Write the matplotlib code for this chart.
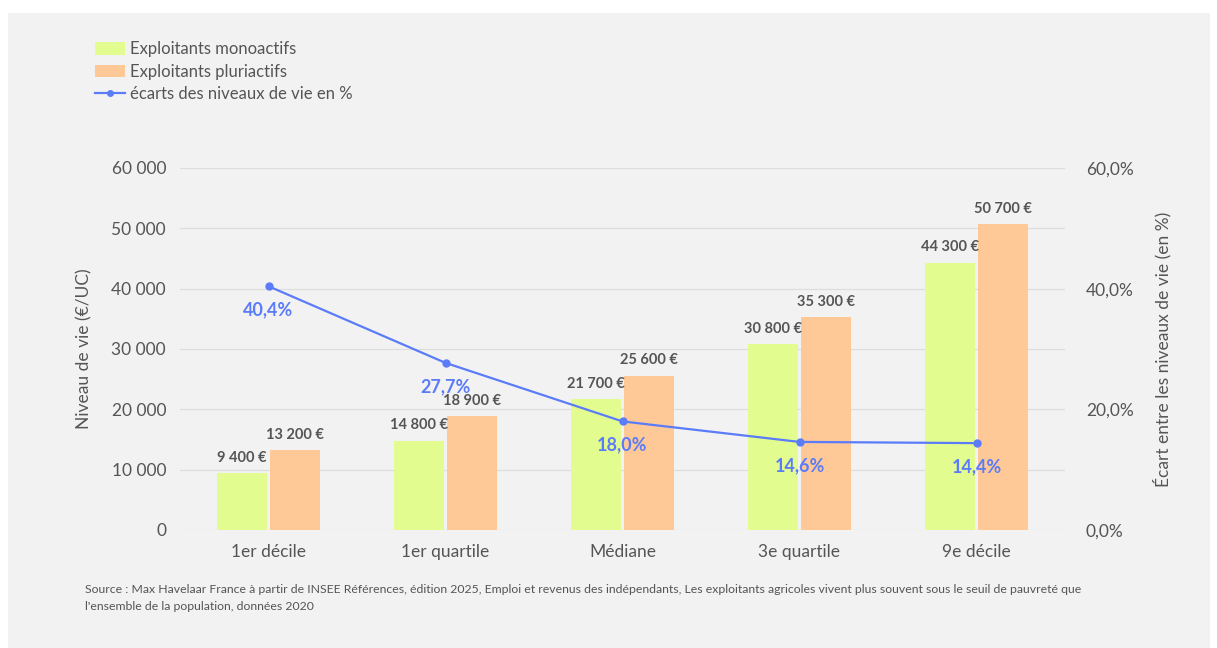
"""Niveau de vie des exploitants monoactifs vs pluriactifs, avec l'écart en %."""
import matplotlib

matplotlib.use("Agg")
import matplotlib.pyplot as plt
from matplotlib.patches import Rectangle
from matplotlib.lines import Line2D

categories = ["1er décile", "1er quartile", "Médiane", "3e quartile", "9e décile"]
monoactifs = [9400, 14800, 21700, 30800, 44300]
pluriactifs = [13200, 18900, 25600, 35300, 50700]
ecarts = [40.4, 27.7, 18.0, 14.6, 14.4]

GREEN = "#e3fc8f"
ORANGE = "#ffc897"
BLUE = "#5b7cf9"
TXT = "#555555"
BG = "#f2f2f2"

plt.rcParams["font.family"] = ["Lato", "DejaVu Sans"]


def fmt_eur(v):
    return f"{v:,}".replace(",", " ") + " €"


def fmt_pct(v):
    return f"{v:.1f}%".replace(".", ",")


fig = plt.figure(figsize=(12.17, 6.48), dpi=100)
fig.patch.set_facecolor("white")
fig.patches.append(Rectangle((8 / 1217, 0), 1202 / 1217, 1 - 13 / 648,
                             transform=fig.transFigure, facecolor=BG,
                             edgecolor="none", zorder=-10))

ax = fig.add_axes([180 / 1217, 1 - 530 / 648, 885 / 1217, 362 / 648])
ax.set_facecolor(BG)
x = list(range(len(categories)))
w = 0.28
ax.bar([i - 0.15 for i in x], monoactifs, width=w, color=GREEN, zorder=2)
ax.bar([i + 0.15 for i in x], pluriactifs, width=w, color=ORANGE, zorder=2)
for i in x:
    ax.annotate(fmt_eur(monoactifs[i]), (i - 0.15, monoactifs[i]), xytext=(0, 6),
                textcoords="offset points", ha="center", va="bottom",
                fontsize=10.5, fontweight="bold", color=TXT)
    ax.annotate(fmt_eur(pluriactifs[i]), (i + 0.15, pluriactifs[i]), xytext=(0, 6),
                textcoords="offset points", ha="center", va="bottom",
                fontsize=10.5, fontweight="bold", color=TXT)

ax.set_xlim(-0.5, 4.5)
ax.set_ylim(0, 60000)
ax.set_yticks(range(0, 60001, 10000))
ax.set_yticklabels([f"{v:,}".replace(",", " ") for v in range(0, 60001, 10000)])
ax.set_xticks(x)
ax.set_xticklabels(categories)
ax.grid(axis="y", color="#dddddd", linewidth=0.9, zorder=0)
for s in ax.spines.values():
    s.set_visible(False)
ax.tick_params(length=0, labelsize=12.5, labelcolor=TXT)
ax.tick_params(axis="y", pad=10)
ax.tick_params(axis="x", pad=10)
ax.set_ylabel("Niveau de vie (€/UC)", fontsize=12.5, color=TXT, labelpad=14)

ax2 = ax.twinx()
ax2.plot(x, ecarts, "o-", color=BLUE, linewidth=1.6, markersize=5, zorder=3)
for i in x:
    ax2.annotate(fmt_pct(ecarts[i]), (i, ecarts[i]), xytext=(0, -17),
                 textcoords="offset points", ha="center", va="center",
                 fontsize=13, fontweight="bold", color=BLUE)
ax2.set_ylim(0, 60)
ax2.set_yticks([0, 20, 40, 60])
ax2.set_yticklabels([fmt_pct(v) for v in [0, 20, 40, 60]])
for s in ax2.spines.values():
    s.set_visible(False)
ax2.tick_params(length=0, labelsize=12.5, labelcolor=TXT, pad=15)
ax2.set_ylabel("Écart entre les niveaux de vie (en %)", fontsize=12.5,
               color=TXT, labelpad=14)

handles = [
    Rectangle((0, 0), 1, 1, facecolor=GREEN, edgecolor="none"),
    Rectangle((0, 0), 1, 1, facecolor=ORANGE, edgecolor="none"),
    Line2D([0], [0], color=BLUE, marker="o", markersize=4, linewidth=1.6),
]
labels = ["Exploitants monoactifs", "Exploitants pluriactifs",
          "écarts des niveaux de vie en %"]
fig.legend(handles, labels, loc="upper left", bbox_to_anchor=(80 / 1217, 1 - 26 / 648),
           frameon=False, fontsize=12, labelcolor=TXT, handlelength=1.8,
           handleheight=0.8, handletextpad=0.3, labelspacing=0.4)

fig.text(85 / 1217, 1 - 598 / 648,
         "Source : Max Havelaar France à partir de INSEE Références, édition 2025, "
         "Emploi et revenus des indépendants, Les exploitants agricoles vivent plus "
         "souvent sous le seuil de pauvreté que\nl'ensemble de la population, données 2020",
         fontsize=8.8, color=TXT, va="center", linespacing=1.6)

fig.savefig("out.png", dpi=100, facecolor=fig.get_facecolor())
